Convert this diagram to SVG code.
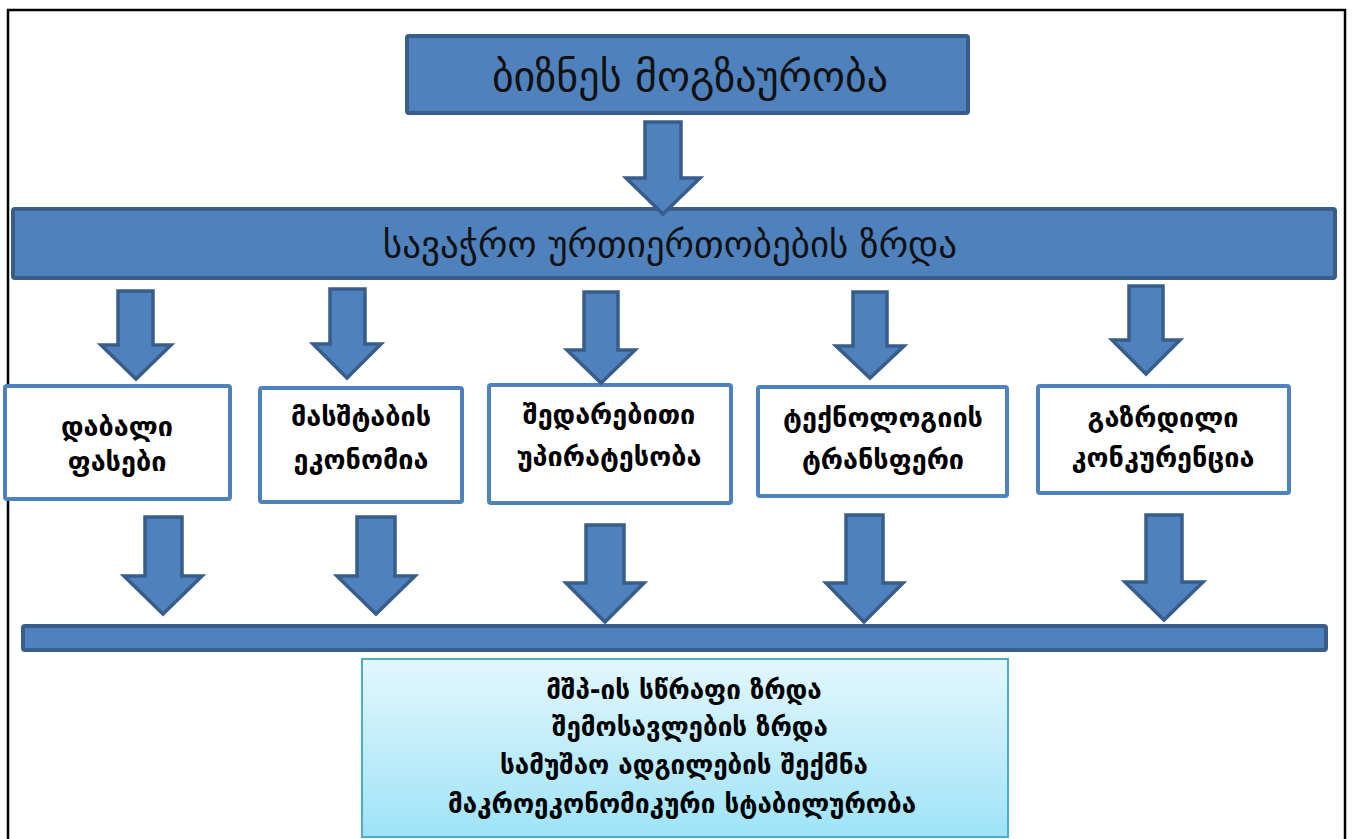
<svg xmlns="http://www.w3.org/2000/svg" width="1353" height="839" viewBox="0 0 1353 839">
<defs>
<linearGradient id="cyan" x1="0" y1="0" x2="0" y2="1">
<stop offset="0" stop-color="#E3F7FD"/>
<stop offset="1" stop-color="#9EE3F7"/>
</linearGradient>
<style>
.bar{fill:#4F81BD;stroke:#385D8A;stroke-width:4}
.arrow{fill:#4F81BD;stroke:#385D8A;stroke-width:3.5;stroke-linejoin:miter}
.box{fill:#FFFFFF;stroke:#4F81BD;stroke-width:4}
.res{fill:url(#cyan);stroke:#4BACC6;stroke-width:2}
.hd{font-family:"DejaVu Sans",sans-serif;fill:#111;text-anchor:middle}
.bt{font-family:"DejaVu Sans",sans-serif;font-weight:bold;fill:#000;text-anchor:middle;font-size:27px}
.rt{font-family:"DejaVu Sans",sans-serif;font-weight:bold;fill:#000;text-anchor:middle;font-size:26px}
</style>
</defs>
<rect width="1353" height="839" fill="#FFFFFF"/>
<rect x="8" y="10" width="1337" height="860" fill="none" stroke="#000" stroke-width="2.5"/>

<g id="top">
<rect class="bar" x="407" y="36" width="561" height="77" rx="2"/>
<text class="hd" x="690" y="91" font-size="42">ბიზნეს  მოგზაურობა</text>
</g>

<g id="trade">
<rect class="bar" x="13" y="209" width="1322" height="69" rx="2"/>
<text class="hd" x="670" y="257" font-size="37">სავაჭრო  ურთიერთობების ზრდა</text>
</g>

<g id="n1">
<rect class="box" x="5" y="386" width="225" height="113" rx="2"/>
<text class="bt" x="117" y="436">დაბალი</text>
<text class="bt" x="117" y="471">ფასები</text>
</g>
<g id="n2">
<rect class="box" x="260" y="388" width="202" height="114" rx="2"/>
<text class="bt" x="361" y="426">მასშტაბის</text>
<text class="bt" x="361" y="469">ეკონომია</text>
</g>
<g id="n3">
<rect class="box" x="489" y="385" width="242" height="118" rx="2"/>
<text class="bt" x="609" y="424">შედარებითი</text>
<text class="bt" x="609" y="466">უპირატესობა</text>
</g>
<g id="n4">
<rect class="box" x="758" y="387" width="249" height="109" rx="2"/>
<text class="bt" x="883" y="427">ტექნოლოგიის</text>
<text class="bt" x="883" y="469">ტრანსფერი</text>
</g>
<g id="n5">
<rect class="box" x="1038" y="386" width="251" height="107" rx="2"/>
<text class="bt" x="1163" y="427">გაზრდილი</text>
<text class="bt" x="1163" y="467">კონკურენცია</text>
</g>

<g id="result">
<rect class="bar" x="23" y="626" width="1303" height="24" rx="2"/>
<rect class="res" x="362" y="659" width="646" height="178"/>
<text class="rt" x="684" y="699">მშპ-ის სწრაფი ზრდა</text>
<text class="rt" x="690" y="736">შემოსავლების ზრდა</text>
<text class="rt" x="684" y="774">სამუშაო ადგილების შექმნა</text>
<text class="rt" x="682" y="813">მაკროეკონომიკური სტაბილურობა</text>
</g>

<g id="connectors">
<polygon class="arrow" points="645,122 681,122 681,178 700,178 663,214 626,178 645,178"/>

<polygon class="arrow" points="118,291 153,291 153,345 171,345 136,379 101,345 118,345"/>
<polygon class="arrow" points="330,289 365,289 365,344 381,344 347,378 313,344 330,344"/>
<polygon class="arrow" points="584,292 618,292 618,350 635,350 601,383 567,350 584,350"/>
<polygon class="arrow" points="853,292 887,292 887,346 904,346 870,378 836,346 853,346"/>
<polygon class="arrow" points="1129,286 1163,286 1163,340 1180,340 1146,374 1112,340 1129,340"/>

<polygon class="arrow" points="145,517 182,517 182,576 202,576 163,614 124,576 145,576"/>
<polygon class="arrow" points="357,517 395,517 395,576 415,576 376,614 337,576 357,576"/>
<polygon class="arrow" points="586,525 624,525 624,583 644,583 605,622 566,583 586,583"/>
<polygon class="arrow" points="846,515 883,515 883,583 903,583 864,622 826,583 846,583"/>
<polygon class="arrow" points="1146,515 1182,515 1182,582 1203,582 1164,620 1125,582 1146,582"/>
</g>
</svg>
